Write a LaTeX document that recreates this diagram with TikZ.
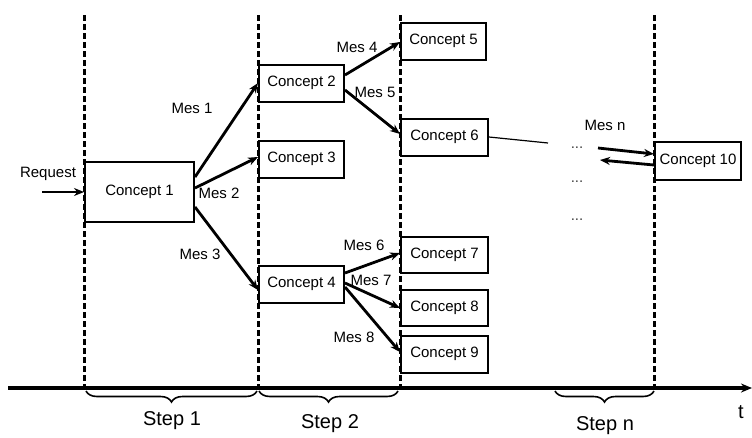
\documentclass[tikz,border=0pt]{standalone}
\usepackage{fontspec}
\setmainfont{Liberation Sans}
\usetikzlibrary{arrows.meta,decorations.pathreplacing,calc}
\begin{document}
\begin{tikzpicture}[x=1pt,y=-1pt,
  box/.style={draw,line width=2pt,fill=white,anchor=west,minimum height=37pt,
    minimum width=85pt,inner sep=1pt,font=\fontsize{15}{17}\selectfont},
  lbl/.style={inner sep=0pt,font=\fontsize{15}{17}\selectfont},
  msg/.style={line width=2.8pt,-{Stealth[length=10pt,width=8pt]}},
  stepline/.style={line width=3pt,dash pattern=on 6pt off 3pt},
  stepbrace/.style={decorate,decoration={brace,mirror,amplitude=11pt,raise=3pt},line width=1.6pt},
  steplbl/.style={font=\fontsize{20}{24}\selectfont}]
\clip (0,0) rectangle (752,437);
\fill[white] (0,0) rectangle (752,437);

% time steps: dashed boundaries
\foreach \x in {84,258,400,654}
  \draw[stepline] (\x,15) -- (\x,388);

% time axis
\coordinate (t0) at (8,388);
\coordinate (t1) at (752,388);
\draw[line width=3.2pt,-{Stealth[length=11pt,width=9pt]}] (t0) -- (t1);
\node[steplbl] (tlbl) at (741,412) {t};

% step braces
\draw[stepbrace] (86,388) -- (257,388);
\draw[stepbrace] (259,388) -- (398,388);
\draw[stepbrace] (555,388) -- (654,388);
\node[steplbl] (s1) at (172,421) {Step 1};
\node[steplbl] (s2) at (330,424) {Step 2};
\node[steplbl] (sn) at (605,426) {Step n};

% concepts
\node[box,minimum width=109pt,minimum height=60pt] (c1) at (84,192) {Concept 1};
\node[box] (c2) at (258,83) {Concept 2};
\node[box] (c3) at (258,159) {Concept 3};
\node[box] (c4) at (258,284) {Concept 4};
\node[box] (c5) at (400,41) {Concept 5};
\node[box,minimum width=87pt] (c6) at (400,137) {Concept 6};
\node[box,minimum width=87pt,minimum height=36pt] (c7) at (400,255) {Concept 7};
\node[box,minimum width=87pt,minimum height=36pt] (c8) at (400,308) {Concept 8};
\node[box,minimum width=87pt] (c9) at (400,354) {Concept 9};
\node[box,minimum width=86pt,minimum height=38pt] (c10) at (654,161) {Concept 10};

% incoming request
\coordinate (rq) at (42,192);
\draw[msg] (rq) -- (c1.west);
\node[lbl] (rql) at (48,174) {Request};

% messages of step 1
\draw[msg] ([yshift=15]c1.east) -- (c2.west);
\draw[msg] ([yshift=4]c1.east) -- ([yshift=2]c3.west);
\draw[msg] ([yshift=-15]c1.east) -- ([yshift=-6]c4.west);
\node[lbl] (m1) at (192,108) {Mes 1};
\node[lbl] (m2) at (219,193) {Mes 2};
\node[lbl] (m3) at (200,254) {Mes 3};

% messages of step 2
\draw[msg] ([yshift=8]c2.east) -- ([yshift=-1]c5.west);
\draw[msg] ([yshift=-7]c2.east) -- ([yshift=3]c6.west);
\draw[msg] ([yshift=11]c4.east) -- ([yshift=2]c7.west);
\draw[msg] ([yshift=1]c4.east) -- (c8.west);
\draw[msg] ([yshift=-3]c4.east) -- ([yshift=2]c9.west);
\node[lbl] (m4) at (357,47) {Mes 4};
\node[lbl] (m5) at (375,92) {Mes 5};
\node[lbl] (m6) at (364,245) {Mes 6};
\node[lbl] (m7) at (371,280) {Mes 7};
\node[lbl] (m8) at (354,337) {Mes 8};

% continuation towards step n
\coordinate (gap) at (548,143);
\draw[line width=1.2pt] (c6.east) -- (gap);
\node[lbl,text=black!75] (d1) at (577,148) {...};
\node[lbl,text=black!75] (d2) at (577,182) {...};
\node[lbl,text=black!75] (d3) at (577,220) {...};

% exchange with the last concept
\coordinate (na) at (598,148);
\coordinate (nb) at (600,160);
\draw[msg] (na) -- ([yshift=7]c10.west);
\draw[msg] ([yshift=-4]c10.west) -- (nb);
\node[lbl] (mn) at (605,125) {Mes n};
\end{tikzpicture}
\end{document}
